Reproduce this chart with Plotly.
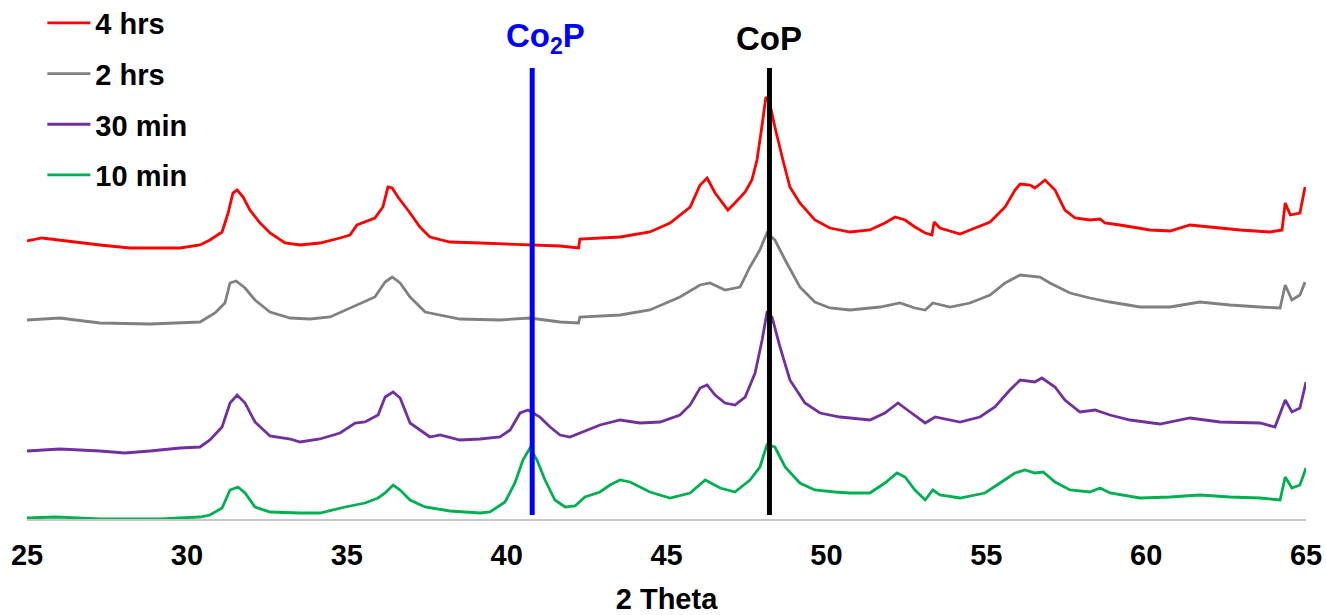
import plotly.graph_objects as go

# ---------------- data (2 Theta, intensity in arbitrary offset units) ----------------
red_x = [25.00, 25.47, 27.28, 28.22, 29.78, 30.41, 30.72, 31.10, 31.29, 31.44, 31.57, 31.76, 31.97,
         32.29, 32.60, 33.07, 33.54, 34.16, 34.79, 35.10, 35.32, 35.57, 35.88, 36.13, 36.29, 36.42,
         36.60, 36.98, 37.29, 37.60, 38.23, 39.17, 40.73, 41.67, 42.25, 42.29, 43.55, 44.48, 45.11,
         45.74, 46.05, 46.27, 46.52, 46.74, 46.92, 47.14, 47.46, 47.67, 47.83, 47.99, 48.11, 48.24,
         48.39, 48.64, 48.86, 49.17, 49.64, 50.11, 50.74, 51.36, 51.83, 52.15, 52.46, 52.77, 53.09,
         53.30, 53.37, 53.55, 54.18, 54.65, 55.12, 55.59, 55.90, 56.06, 56.37, 56.52, 56.84, 57.15,
         57.46, 57.78, 58.24, 58.56, 58.71, 59.18, 60.12, 60.75, 61.37, 62.00, 62.94, 63.87, 64.25,
         64.35, 64.51, 64.81, 64.97]
red_y = [277, 280, 273, 270, 270, 273, 278, 286, 305, 325, 328, 321, 308,
         295, 285, 275, 273, 275, 280, 283, 293, 296, 300, 311, 331, 330,
         321, 305, 291, 281, 276, 275, 273, 272, 270, 279, 281, 286, 295,
         311, 333, 340, 325, 315, 308, 315, 326, 338, 358, 393, 421, 413,
         391, 358, 331, 315, 298, 290, 286, 288, 295, 301, 298, 291, 285,
         283, 296, 290, 284, 290, 296, 311, 328, 334, 333, 330, 338, 328,
         308, 300, 298, 299, 295, 293, 288, 287, 293, 291, 288, 286, 288,
         315, 303, 305, 331]

gray_x = [25.00, 26.03, 27.28, 28.85, 30.41, 30.88, 31.19, 31.35, 31.54, 31.82, 32.13, 32.60, 33.23,
          33.85, 34.48, 35.10, 35.57, 35.88, 36.20, 36.42, 36.67, 36.98, 37.45, 37.92, 38.54, 39.79,
          40.73, 41.67, 42.25, 42.29, 43.55, 44.48, 45.42, 46.05, 46.36, 46.83, 47.30, 47.61, 47.92,
          48.14, 48.39, 48.71, 49.17, 49.64, 50.11, 50.74, 51.68, 52.30, 52.77, 53.09, 53.33, 53.87,
          54.49, 55.12, 55.59, 56.06, 56.68, 56.99, 57.62, 58.24, 58.87, 59.81, 60.75, 61.68, 62.62,
          63.56, 64.19, 64.35, 64.56, 64.81, 64.97]
gray_y = [198, 200, 195, 194, 196, 205, 215, 235, 237, 230, 218, 206, 200,
          199, 201, 210, 216, 221, 236, 241, 235, 221, 206, 203, 199, 198,
          200, 196, 195, 201, 203, 208, 221, 233, 235, 228, 231, 251, 268,
          285, 278, 258, 231, 216, 210, 208, 211, 215, 210, 208, 215, 211,
          215, 223, 235, 243, 241, 235, 225, 220, 216, 211, 211, 216, 213,
          211, 210, 233, 218, 223, 236]

purple_x = [25.00, 26.03, 27.28, 28.06, 28.85, 29.78, 30.41, 30.72, 31.10, 31.35, 31.57, 31.82, 32.13,
            32.60, 33.23, 33.54, 34.16, 34.79, 35.26, 35.57, 35.98, 36.20, 36.45, 36.67, 36.98, 37.60,
            37.92, 38.54, 39.17, 39.79, 40.11, 40.42, 40.67, 41.04, 41.36, 41.67, 41.98, 42.29, 42.92,
            43.55, 44.17, 44.80, 45.42, 45.74, 46.05, 46.27, 46.52, 46.83, 47.14, 47.46, 47.77, 47.99,
            48.14, 48.30, 48.55, 48.86, 49.33, 49.80, 50.43, 50.74, 51.36, 51.83, 52.24, 52.62, 53.09,
            53.40, 54.18, 54.80, 55.27, 55.74, 56.06, 56.52, 56.74, 57.15, 57.46, 57.93, 58.40, 58.87,
            59.50, 60.43, 61.37, 62.31, 63.56, 64.03, 64.35, 64.56, 64.81, 65.00]
purple_y = [67, 69, 67, 65, 67, 70, 71, 78, 91, 115, 123, 115, 96,
            82, 79, 76, 79, 85, 95, 96, 103, 121, 126, 120, 95, 81,
            83, 78, 79, 81, 88, 105, 108, 101, 91, 83, 81, 85, 93,
            98, 95, 96, 103, 113, 130, 133, 123, 115, 113, 121, 145, 178,
            205, 201, 171, 138, 115, 105, 101, 100, 98, 105, 115, 106, 95,
            101, 96, 101, 111, 128, 138, 136, 140, 131, 118, 106, 108, 103,
            98, 94, 100, 96, 95, 91, 118, 106, 110, 136]

green_x = [25.00, 25.88, 27.28, 28.06, 29.16, 30.41, 30.72, 31.10, 31.35, 31.60, 31.82, 32.13, 32.60,
           33.54, 34.16, 34.95, 35.57, 35.98, 36.20, 36.45, 36.67, 36.98, 37.45, 38.23, 39.17, 39.48,
           39.95, 40.26, 40.51, 40.73, 40.95, 41.20, 41.51, 41.83, 42.14, 42.45, 42.92, 43.23, 43.55,
           43.86, 44.48, 45.11, 45.74, 46.21, 46.68, 47.14, 47.61, 47.92, 48.14, 48.39, 48.71, 49.17,
           49.64, 50.27, 50.74, 51.36, 51.83, 52.21, 52.46, 52.77, 53.09, 53.33, 53.55, 54.18, 54.96,
           55.43, 55.90, 56.21, 56.52, 56.78, 57.15, 57.62, 58.24, 58.56, 58.87, 59.81, 60.75, 61.68,
           62.62, 63.56, 64.19, 64.35, 64.56, 64.81, 65.00]
green_y = [0, 1, -1, -1, -1, 1, 3, 10, 28, 31, 25, 11, 6,
           5, 5, 11, 15, 20, 25, 33, 28, 18, 11, 7, 5, 6,
           16, 35, 58, 70, 58, 38, 18, 11, 12, 21, 26, 33, 38,
           36, 26, 20, 25, 38, 30, 26, 38, 51, 73, 71, 51, 35,
           28, 26, 25, 25, 35, 45, 41, 28, 18, 28, 23, 20, 25,
           35, 45, 48, 45, 46, 36, 28, 26, 30, 25, 20, 21, 23,
           21, 20, 18, 41, 30, 33, 50]

series_names = ["4 hrs", "2 hrs", "30 min", "10 min"]
series_colors = ["#FF0000", "#808080", "#7030A0", "#00B050"]

ref_labels = ["Co<sub>2</sub>P", "CoP"]
ref_positions = [40.8, 48.22]
ref_colors = ["#0000FF", "#000000"]
ref_line_y = [3, 450]
ref_label_y = 480

x_ticks = [25, 30, 35, 40, 45, 50, 55, 60, 65]

FONT = "Arial, Liberation Sans, sans-serif"

fig = go.Figure()
for name, color, xs, ys in zip(series_names, series_colors,
                               [red_x, gray_x, purple_x, green_x],
                               [red_y, gray_y, purple_y, green_y]):
    fig.add_trace(go.Scatter(x=xs, y=ys, mode="lines", name=name, legendgroup=name,
                             line=dict(color=color, width=2.8)))

for lbl, pos, col in zip(ref_labels, ref_positions, ref_colors):
    fig.add_trace(go.Scatter(x=[pos, pos], y=ref_line_y, mode="lines", showlegend=False,
                             line=dict(color=col, width=5), hoverinfo="skip"))
    fig.add_annotation(x=pos, y=ref_label_y, text=f"<b>{lbl}</b>", showarrow=False,
                       xshift=13 if "sub" in lbl else 0,
                       font=dict(family=FONT, size=33, color=col), yanchor="middle")

fig.update_layout(
    width=1326, height=615,
    margin=dict(l=27, r=20, t=19, b=96, autoexpand=False),
    paper_bgcolor="white", plot_bgcolor="white",
    font=dict(family=FONT, color="black"),
    showlegend=True,
    legend=dict(x=0.012, xanchor="left", y=1.043, yanchor="top",
                font=dict(family=FONT, size=29, color="black", weight="bold"),
                itemwidth=43,
                tracegroupgap=10, bgcolor="rgba(0,0,0,0)"),
    xaxis=dict(range=[25, 65], tickvals=x_ticks, ticktext=[str(t) for t in x_ticks],
               automargin=False,
               showgrid=False, zeroline=False, showline=True, linecolor="#C8C8C8",
               linewidth=2, ticks="", ticklabelstandoff=9,
               tickfont=dict(family=FONT, size=29, color="black", weight="bold"),
               title=dict(text="<b>2 Theta</b>", standoff=23,
                          font=dict(family=FONT, size=29, color="black"))),
    yaxis=dict(range=[-1, 499], visible=False),
)

fig.write_html("out.html")
